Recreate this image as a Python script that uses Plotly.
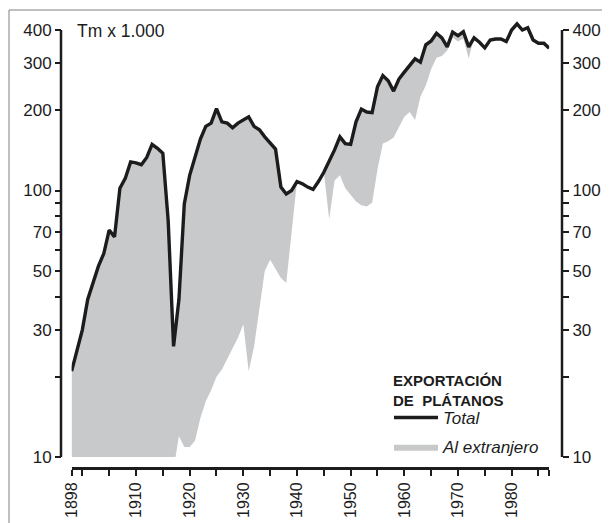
import plotly.graph_objects as go
import math

years = list(range(1898, 1988))
total = [21, 25, 30, 39, 45, 52, 58, 71, 67, 102,
         111, 128, 127, 125, 133, 149, 144, 138, 77, 26,
         39, 89, 114, 134, 156, 174, 179, 203, 181, 179,
         172, 179, 184, 189, 174, 169, 159, 150, 143, 103,
         97, 100, 108, 106, 103, 101, 108, 117, 128, 142,
         159, 150, 149, 181, 202, 197, 196, 245, 270, 258,
         236, 262, 278, 296, 312, 303, 352, 364, 389, 374,
         346, 393, 381, 394, 346, 374, 360, 343, 367, 370,
         370, 362, 400, 422, 400, 408, 367, 357, 357, 342]
# lower edge of the grey band (total minus exports abroad); below 10 it is off the chart
peninsula = [3, 3, 3, 4, 4, 4, 5, 5, 5, 6,
             6, 6, 7, 7, 7, 7, 8, 8, 8, 9,
             12, 10.9, 10.9, 11.5, 14, 16.2, 17.8, 20, 21.3, 23.3,
             25.5, 28, 31.5, 21, 26, 36, 50, 55, 51, 47,
             45, 68, 108, 106, 103, 101, 108, 117, 78, 109,
             114, 102, 96, 91, 88, 87, 90, 120, 150, 153,
             158, 172, 189, 197, 184, 225, 248, 285, 315, 320,
             335, 375, 362, 372, 313, 374, 360, 343, 367, 370,
             370, 362, 400, 422, 400, 408, 367, 357, 357, 342]

y_tickvals = [10, 20, 30, 40, 50, 60, 70, 80, 90, 100, 200, 300, 400]
y_ticktext = ["10", "", "30", "", "50", "", "70", "", "", "100", "200", "300", "400"]
x_tickvals = [1898, 1900, 1905, 1910, 1915, 1920, 1925, 1930, 1935, 1940, 1945,
              1950, 1955, 1960, 1965, 1970, 1975, 1980, 1985, 1987]
x_ticktext = ["1898", "", "", "1910", "", "1920", "", "1930", "", "1940", "",
              "1950", "", "1960", "", "1970", "", "1980", "", ""]

# ---- geometry (pixels of the 610x523 window; the page body adds an 8px offset) ----
OFF = 8
W, H = 610 - OFF, 523 - OFF
PAPER_L, PAPER_R, PAPER_T, PAPER_B = 61, 562, 19, 468   # window px
L, R, T, B = PAPER_L - OFF, W - (PAPER_R - OFF), PAPER_T - OFF, H - (PAPER_B - OFF)
PW, PH = PAPER_R - PAPER_L, PAPER_B - PAPER_T
PX_PER_DEC = 266.5
PY10 = 457.0
x_left_px, x_right_px = 71.6, 549.2
ytop_log = 1 + (PY10 - PAPER_T) / PX_PER_DEC


def ypaper(v):
    py = PY10 - PX_PER_DEC * math.log10(v / 10)
    return (PAPER_B - py) / PH


def xpaper(px):
    return (px - PAPER_L) / PW


def ypaper_px(py):
    return (PAPER_B - py) / PH


FONT = "Liberation Sans, Arial, Helvetica, sans-serif"
INK = "#1c1c1c"
GREY = "#c8c9cb"

fig = go.Figure()
fig.add_trace(go.Scatter(
    x=years, y=peninsula, mode="lines", line=dict(width=0, color=GREY),
    showlegend=False, hoverinfo="skip"))
fig.add_trace(go.Scatter(
    x=years, y=total, mode="lines", fill="tonexty", fillcolor=GREY,
    line=dict(width=0, color=GREY), name="Al extranjero",
    legendgroup="b", legendrank=2, hoverinfo="skip"))
fig.add_trace(go.Scatter(
    x=years, y=total, mode="lines", yaxis="y2",
    line=dict(width=3.4, color=INK), name="Total",
    legendgroup="a", legendrank=1))

yax = dict(type="log", range=[1, ytop_log], tickvals=y_tickvals, ticktext=y_ticktext,
           ticks="outside", ticklen=6, tickwidth=1.5, tickcolor=INK,
           showgrid=False, zeroline=False, showline=False, automargin=False,
           tickfont=dict(family=FONT, size=17, color=INK),
           domain=[ypaper(10), 1], anchor="free", position=0)
fig.update_layout(
    width=W, height=H, margin=dict(l=L, r=R, t=T, b=B, pad=0, autoexpand=False),
    paper_bgcolor="white", plot_bgcolor="white",
    xaxis=dict(range=[1898, 1987], domain=[xpaper(x_left_px), xpaper(x_right_px)],
               tickvals=x_tickvals, ticktext=x_ticktext, tickangle=-90,
               ticks="outside", ticklen=6, tickwidth=1.5, tickcolor=INK,
               showline=True, linewidth=3, linecolor=INK, showgrid=False,
               zeroline=False, anchor="free", position=0, automargin=False,
               tickfont=dict(family=FONT, size=16, color=INK)),
    yaxis=yax,
    yaxis2=dict(yax, overlaying="y", side="right", position=1),
    showlegend=True,
    legend=dict(x=xpaper(389), y=ypaper_px(400), xanchor="left", yanchor="top",
                bgcolor="rgba(0,0,0,0)", tracegroupgap=4, itemwidth=44,
                font=dict(family=FONT, size=17, color=INK, style="italic")),
    annotations=[
        dict(text="Tm x 1.000", x=xpaper(75), y=ypaper_px(31), xref="paper", yref="paper",
             xanchor="left", yanchor="middle", showarrow=False,
             font=dict(family=FONT, size=17.5, color=INK)),
        dict(text="<b>EXPORTACIÓN<br>DE  PLÁTANOS</b>", x=xpaper(391), y=ypaper_px(390),
             xref="paper", yref="paper", xanchor="left", yanchor="middle", align="left",
             showarrow=False, font=dict(family=FONT, size=15, color=INK)),
    ],
    shapes=[
        dict(type="line", xref="paper", yref="paper", x0=0, x1=0,
             y0=ypaper(10), y1=ypaper(400), line=dict(color=INK, width=2.5)),
        dict(type="line", xref="paper", yref="paper", x0=1, x1=1,
             y0=ypaper(10), y1=ypaper(400), line=dict(color=INK, width=2.5)),
        dict(type="rect", xref="paper", yref="paper", x0=xpaper(9), x1=xpaper(640),
             y0=ypaper_px(560), y1=ypaper_px(10), line=dict(color="#808080", width=1)),
    ],
)
fig.write_html("out.html")
